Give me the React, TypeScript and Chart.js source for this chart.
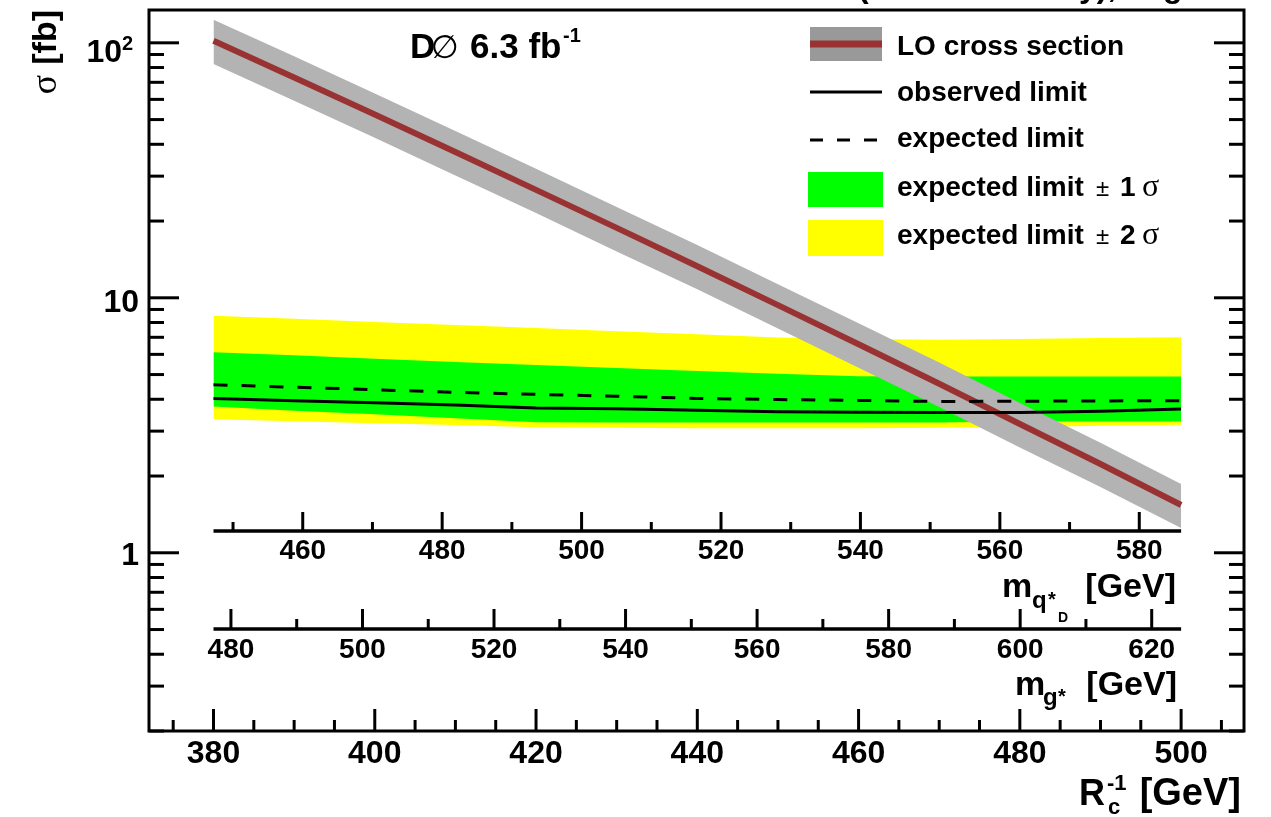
import React, { useEffect, useRef } from "react";
import { Chart, registerables } from "chart.js";

Chart.register(...registerables);

// ---- data ----
const rcInv = [380, 390, 400, 410, 420, 430, 440, 450, 460, 470, 480, 490, 500];
const loCrossSection = [101.8, 73.1, 52.3, 37.3, 26.5, 18.8, 13.3, 9.36, 6.57, 4.6, 3.2, 2.23, 1.54];
const loUpper = [123.2, 88.5, 63.3, 45.1, 32.1, 22.7, 16.1, 11.3, 7.95, 5.57, 3.87, 2.7, 1.86];
const loLower = [82.5, 59.2, 42.4, 30.2, 21.5, 15.2, 10.8, 7.58, 5.32, 3.73, 2.59, 1.81, 1.25];
const observedLimit = [4.03, 3.95, 3.88, 3.8, 3.7, 3.67, 3.62, 3.57, 3.56, 3.55, 3.55, 3.59, 3.66];
const expectedLimit = [4.56, 4.46, 4.36, 4.26, 4.18, 4.11, 4.03, 3.99, 3.96, 3.92, 3.93, 3.94, 3.95];
const oneSigmaUp = [6.12, 5.95, 5.77, 5.6, 5.45, 5.3, 5.16, 5.04, 4.92, 4.91, 4.91, 4.91, 4.91];
const oneSigmaDown = [3.75, 3.61, 3.49, 3.37, 3.25, 3.24, 3.24, 3.24, 3.24, 3.24, 3.27, 3.27, 3.27];
const twoSigmaUp = [8.5, 8.27, 8.04, 7.83, 7.61, 7.39, 7.19, 6.98, 6.89, 6.84, 6.9, 6.96, 7.01];
const twoSigmaDown = [3.34, 3.28, 3.22, 3.17, 3.11, 3.09, 3.08, 3.08, 3.08, 3.09, 3.11, 3.15, 3.18];

const rcTickLabels = [380, 400, 420, 440, 460, 480, 500];
const mqTickLabels = [460, 480, 500, 520, 540, 560, 580];
const mqMinorTicks = [450, 470, 490, 510, 530, 550, 570];
const mgTickLabels = [480, 500, 520, 540, 560, 580, 600, 620];
const mgMinorTicks = [490, 510, 530, 550, 570, 590, 610];
const mqAxisRange = [447.2, 586.0]; // m_q*_D at R_c^-1 = 380 and 500
const mgAxisRange = [477.35, 624.47]; // m_g* at R_c^-1 = 380 and 500
const rcAxisEnds = [380, 500];

const SANS = '"Liberation Sans", Arial, Helvetica, sans-serif';
const SERIF = '"Liberation Serif", "Times New Roman", serif';
const RED = "#993333";
const GREEN = "#00ff00";
const YELLOW = "#ffff00";
const GREY_BAND = "#b3b3b3";
const GREY_LEG = "#999999";

function drawText(
  ctx: CanvasRenderingContext2D,
  s: string,
  x: number,
  y: number,
  size: number,
  align: CanvasTextAlign = "left",
  bold = true,
  family = SANS
) {
  ctx.font = `${bold ? "bold " : ""}${size}px ${family}`;
  ctx.textAlign = align;
  ctx.textBaseline = "alphabetic";
  ctx.fillStyle = "#000";
  ctx.fillText(s, x, y);
}

function line(ctx: CanvasRenderingContext2D, x1: number, y1: number, x2: number, y2: number) {
  ctx.beginPath();
  ctx.moveTo(x1, y1);
  ctx.lineTo(x2, y2);
  ctx.stroke();
}

const overlay = {
  id: "rootStyleOverlay",
  afterDraw(chart: any) {
    const { ctx, chartArea: ca, scales } = chart;
    const xs = scales.x;
    const ys = scales.y;
    const X = (v: number) => xs.getPixelForValue(v);
    const Y = (v: number) => ys.getPixelForValue(v);
    ctx.save();
    ctx.strokeStyle = "#000";
    ctx.fillStyle = "#000";
    ctx.lineCap = "butt";
    ctx.setLineDash([]);

    // frame
    ctx.lineWidth = 3;
    ctx.strokeRect(ca.left, ca.top, ca.right - ca.left, ca.bottom - ca.top);

    // y ticks (left and right, inward)
    for (const d of [0.1, 1, 10, 100]) {
      for (let k = 1; k <= 9; k++) {
        const v = k * d;
        if (v < ys.min * 0.999 || v > ys.max) continue;
        const len = k === 1 ? 30 : 15;
        const py = Y(v);
        line(ctx, ca.left, py, ca.left + len, py);
        line(ctx, ca.right, py, ca.right - len, py);
      }
    }
    // x ticks (bottom, inward)
    for (let v = 375; v <= 505; v += 5) {
      const len = v % 20 === 0 ? 22 : 11;
      const px = X(v);
      line(ctx, px, ca.bottom, px, ca.bottom - len);
    }
    // x tick labels
    for (const v of rcTickLabels) drawText(ctx, String(v), X(v), 763, 32, "center");

    // y tick labels
    drawText(ctx, "1", 139, Y(1) + 12, 32, "right");
    drawText(ctx, "10", 139, Y(10) + 14, 32, "right");
    drawText(ctx, "10", 122, Y(100) + 19, 32, "right");
    drawText(ctx, "2", 122, Y(100) + 7, 20, "left");

    // secondary axes
    const xa = X(rcAxisEnds[0]);
    const xb = X(rcAxisEnds[1]);
    const mqX = (m: number) => xa + ((m - mqAxisRange[0]) / (mqAxisRange[1] - mqAxisRange[0])) * (xb - xa);
    const mgX = (m: number) => xa + ((m - mgAxisRange[0]) / (mgAxisRange[1] - mgAxisRange[0])) * (xb - xa);
    const yMq = 531;
    ctx.lineWidth = 3.5;
    line(ctx, xa, yMq, xb, yMq);
    ctx.lineWidth = 3;
    for (const m of mqTickLabels) line(ctx, mqX(m), yMq, mqX(m), yMq - 19);
    for (const m of mqMinorTicks) line(ctx, mqX(m), yMq, mqX(m), yMq - 9);
    for (const m of mqTickLabels) drawText(ctx, String(m), mqX(m), 559, 28, "center");

    const yMg = 629;
    ctx.lineWidth = 3.5;
    line(ctx, xa, yMg, xb, yMg);
    ctx.lineWidth = 3;
    for (const m of mgTickLabels) line(ctx, mgX(m), yMg, mgX(m), yMg - 20);
    for (const m of mgMinorTicks) line(ctx, mgX(m), yMg, mgX(m), yMg - 10);
    for (const m of mgTickLabels) drawText(ctx, String(m), mgX(m), 658, 28, "center");

    // axis titles
    drawText(ctx, "m", 1002, 597, 34);
    drawText(ctx, "q", 1032, 608, 24);
    drawText(ctx, "*", 1048, 606, 20);
    drawText(ctx, "D", 1058, 622, 14);
    drawText(ctx, "[GeV]", 1176, 597, 34, "right");

    drawText(ctx, "m", 1015, 695, 34);
    drawText(ctx, "g", 1043, 705, 24);
    drawText(ctx, "*", 1058, 703, 20);
    drawText(ctx, "[GeV]", 1177, 695, 34, "right");

    drawText(ctx, "[GeV]", 1241, 805, 38, "right");
    drawText(ctx, "R", 1105, 805, 36, "right");
    drawText(ctx, "-1", 1107, 790, 22);
    drawText(ctx, "c", 1108, 814, 22);

    // y title
    ctx.save();
    ctx.translate(56, 10);
    ctx.rotate(-Math.PI / 2);
    drawText(ctx, "[fb]", 0, 0, 34, "right");
    ctx.font = `bold 34px ${SANS}`;
    const wfb = ctx.measureText("[fb]").width;
    drawText(ctx, "σ", -wfb - 10, 0, 36, "right", false, SERIF);
    ctx.restore();

    // experiment label
    drawText(ctx, "D", 410, 58, 35);
    drawText(ctx, "∅", 431, 58, 32, "left", false, '"DejaVu Sans", sans-serif');
    drawText(ctx, "6.3 fb", 470, 58, 35);
    drawText(ctx, "-1", 563, 42, 20);

    // clipped title remnants above the frame
    drawText(ctx, "(", 858, -3, 32);
    drawText(ctx, "y),", 1079, -3, 32);
    drawText(ctx, "g", 1163, -3, 32);

    // legend
    const lx0 = 810;
    const lx1 = 882;
    ctx.fillStyle = GREY_LEG;
    ctx.fillRect(lx0, 27, lx1 - lx0, 34);
    ctx.strokeStyle = RED;
    ctx.lineWidth = 7;
    line(ctx, lx0, 44, lx1, 44);
    ctx.strokeStyle = "#000";
    ctx.lineWidth = 3;
    line(ctx, lx0, 92, lx1, 92);
    ctx.setLineDash([13, 14]);
    line(ctx, lx0, 140, lx1 - 2, 140);
    ctx.setLineDash([]);
    ctx.fillStyle = GREEN;
    ctx.fillRect(808, 172, 75, 35);
    ctx.fillStyle = YELLOW;
    ctx.fillRect(808, 220, 75, 36);

    const tx = 897;
    drawText(ctx, "LO cross section", tx, 55, 28);
    drawText(ctx, "observed limit", tx, 101, 28);
    drawText(ctx, "expected limit", tx, 147, 28);
    drawText(ctx, "expected limit", tx, 196, 28);
    drawText(ctx, "±", 1096, 196, 24, "left", false);
    drawText(ctx, "1", 1120, 196, 28);
    drawText(ctx, "σ", 1142, 196, 32, "left", false, SERIF);
    drawText(ctx, "expected limit", tx, 244, 28);
    drawText(ctx, "±", 1096, 244, 24, "left", false);
    drawText(ctx, "2", 1120, 244, 28);
    drawText(ctx, "σ", 1142, 244, 32, "left", false, SERIF);

    ctx.restore();
  },
};

function series(values: number[]) {
  return rcInv.map((r, i) => ({ x: r, y: values[i] }));
}

const invisible = { borderColor: "rgba(0,0,0,0)", borderWidth: 0 };

export default function App() {
  const ref = useRef<HTMLCanvasElement>(null);

  useEffect(() => {
    const canvas = ref.current;
    if (!canvas) return;
    const chart = new Chart(canvas, {
      type: "line",
      data: {
        datasets: [
          { label: "observed limit", data: series(observedLimit), borderColor: "#000", borderWidth: 3, fill: false, order: 0 },
          { label: "expected limit", data: series(expectedLimit), borderColor: "#000", borderWidth: 3, borderDash: [14, 14], fill: false, order: 1 },
          { label: "LO cross section", data: series(loCrossSection), borderColor: RED, borderWidth: 6, fill: false, order: 2 },
          { label: "LO upper", data: series(loUpper), ...invisible, backgroundColor: GREY_BAND, fill: "+1", order: 3 },
          { label: "LO lower", data: series(loLower), ...invisible, fill: false, order: 3 },
          { label: "expected +1σ", data: series(oneSigmaUp), ...invisible, backgroundColor: GREEN, fill: "+1", order: 4 },
          { label: "expected -1σ", data: series(oneSigmaDown), ...invisible, fill: false, order: 4 },
          { label: "expected +2σ", data: series(twoSigmaUp), ...invisible, backgroundColor: YELLOW, fill: "+1", order: 5 },
          { label: "expected -2σ", data: series(twoSigmaDown), ...invisible, fill: false, order: 5 },
        ] as any,
      },
      options: {
        responsive: false,
        animation: false,
        devicePixelRatio: 1,
        events: [],
        elements: { point: { radius: 0 }, line: { tension: 0 } },
        layout: { padding: { left: 149, right: 27, top: 10, bottom: 86 } },
        scales: {
          x: { type: "linear", min: 372, max: 507.8, display: false },
          y: { type: "logarithmic", min: 0.2, max: 134.5, display: false },
        },
        plugins: {
          legend: { display: false },
          tooltip: { enabled: false },
        },
      } as any,
      plugins: [overlay],
    });
    return () => chart.destroy();
  }, []);

  return (
    <div style={{ position: "fixed", left: 0, top: 0, width: 1271, height: 817, background: "#fff" }}>
      <canvas ref={ref} width={1271} height={817} style={{ display: "block" }} />
    </div>
  );
}
